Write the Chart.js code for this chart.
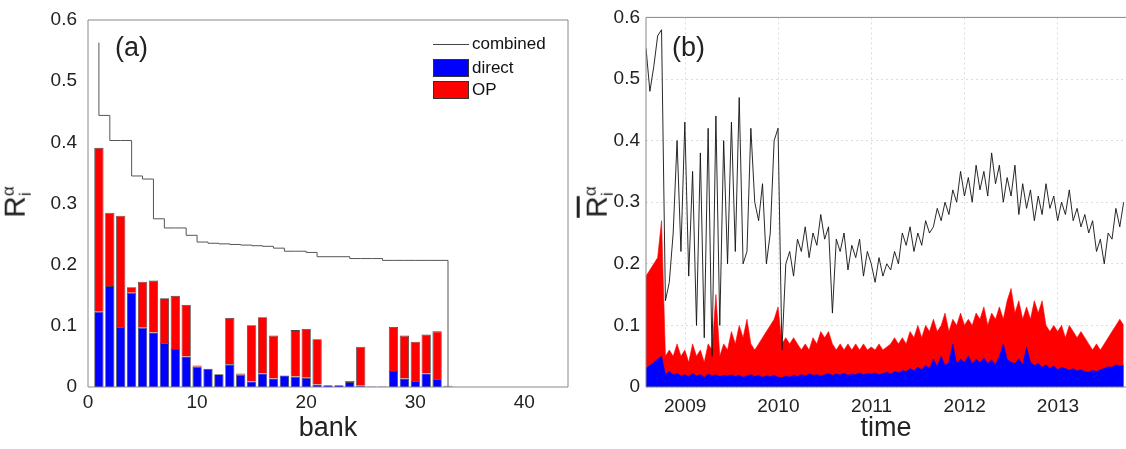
<!DOCTYPE html>
<html><head><meta charset="utf-8">
<script src="https://cdn.jsdelivr.net/npm/chart.js@4"></script>
<style>
body{margin:0;background:#fff;font-family:"Liberation Sans",Arial,sans-serif;}
#wrap{position:relative;width:1126px;height:449px;overflow:hidden;}
canvas{position:absolute;top:0;}
.lbl{position:absolute;color:#222;}
.ylab{position:absolute;font-size:30px;transform:rotate(-90deg);transform-origin:center;white-space:nowrap;color:#222;}
.leg{position:absolute;font-size:17px;color:#111;}
.sw{position:absolute;width:36px;height:18px;border:1px solid #333;box-sizing:border-box;}
</style></head><body>
<div id="wrap">
<canvas id="ca" width="580" height="449" style="left:0;width:580px;height:449px"></canvas>
<canvas id="cb" width="536" height="449" style="left:590px;width:536px;height:449px"></canvas>
<div class="lbl" style="left:115px;top:32px;font-size:27px">(a)</div>
<div class="lbl" style="left:672px;top:32px;font-size:27px">(b)</div>
<div class="ylab" style="left:0px;top:184px">R<span style="display:inline-block;vertical-align:middle;font-size:17px;line-height:17px;text-align:left">α<br>i</span></div>
<div class="ylab" style="left:582px;top:184px"><span style="text-decoration:overline">R</span><span style="display:inline-block;vertical-align:middle;font-size:17px;line-height:17px;text-align:left">α<br>i</span></div>
<div style="position:absolute;left:433px;top:44px;width:36px;border-top:1px solid #444"></div>
<div class="leg" style="left:472px;top:34px">combined</div>
<div class="sw" style="left:433px;top:59px;background:#0000ff"></div>
<div class="leg" style="left:472px;top:58px">direct</div>
<div class="sw" style="left:433px;top:81px;background:#ff0000"></div>
<div class="leg" style="left:472px;top:80px">OP</div>
</div>
<script>
// panel (a): per-bank values
const banks = [];
for (let i = 1; i <= 33; i++) banks.push(i);
const totalA = [0.391,0.285,0.280,0.163,0.172,0.174,0.145,0.149,0.134,0.035,0.030,0.021,0.113,0.022,0.101,0.114,0.084,0.019,0.093,0.095,0.078,0.003,0.003,0.010,0.066,0.001,0.001,0.098,0.084,0.074,0.086,0.091,0.002];
const directA = [0.123,0.165,0.098,0.154,0.097,0.089,0.072,0.062,0.050,0.033,0.030,0.021,0.037,0.020,0.009,0.022,0.014,0.019,0.017,0.015,0.004,0.003,0.003,0.008,0.002,0.001,0.001,0.026,0.014,0.010,0.022,0.013,0.001];
const combinedA = [0.563,0.444,0.403,0.403,0.345,0.340,0.275,0.260,0.260,0.248,0.237,0.235,0.234,0.233,0.232,0.231,0.230,0.227,0.222,0.222,0.220,0.213,0.213,0.213,0.210,0.210,0.210,0.207,0.207,0.207,0.207,0.207,0.207];

// panel (b): half-monthly samples starting Aug 2008
const tStart = 2008.58, tStep = 1 / 24;
const combinedB = [0.55,0.48,0.52,0.57,0.58,0.14,0.17,0.25,0.40,0.22,0.43,0.18,0.35,0.10,0.38,0.08,0.42,0.05,0.44,0.10,0.40,0.20,0.43,0.22,0.47,0.20,0.22,0.42,0.30,0.27,0.33,0.20,0.25,0.40,0.42,0.06,0.20,0.22,0.18,0.24,0.22,0.26,0.21,0.25,0.23,0.28,0.24,0.26,0.12,0.24,0.22,0.25,0.19,0.23,0.21,0.24,0.18,0.22,0.20,0.17,0.21,0.18,0.20,0.19,0.22,0.20,0.25,0.23,0.26,0.22,0.25,0.23,0.27,0.25,0.26,0.29,0.27,0.30,0.28,0.32,0.30,0.35,0.31,0.34,0.30,0.36,0.32,0.35,0.31,0.38,0.33,0.36,0.30,0.34,0.31,0.36,0.28,0.33,0.29,0.32,0.27,0.31,0.28,0.33,0.29,0.31,0.27,0.30,0.28,0.32,0.27,0.29,0.26,0.28,0.25,0.27,0.22,0.24,0.20,0.25,0.24,0.29,0.26,0.30];
const totalB = [0.18,0.19,0.20,0.21,0.27,0.05,0.06,0.05,0.07,0.05,0.06,0.04,0.07,0.05,0.06,0.04,0.07,0.06,0.15,0.05,0.07,0.06,0.09,0.07,0.10,0.08,0.11,0.07,0.06,0.07,0.08,0.09,0.10,0.11,0.13,0.07,0.08,0.07,0.08,0.07,0.06,0.07,0.06,0.08,0.07,0.09,0.08,0.09,0.07,0.06,0.07,0.06,0.07,0.06,0.07,0.06,0.07,0.06,0.065,0.06,0.07,0.06,0.065,0.07,0.08,0.07,0.08,0.07,0.09,0.08,0.10,0.08,0.10,0.09,0.11,0.09,0.10,0.12,0.09,0.11,0.10,0.12,0.10,0.11,0.10,0.12,0.11,0.13,0.10,0.12,0.11,0.13,0.11,0.14,0.16,0.12,0.14,0.11,0.13,0.11,0.14,0.12,0.14,0.10,0.09,0.10,0.09,0.10,0.08,0.10,0.09,0.08,0.09,0.08,0.07,0.06,0.07,0.06,0.07,0.08,0.09,0.10,0.11,0.10];
const directB = [0.03,0.035,0.04,0.045,0.05,0.02,0.025,0.02,0.022,0.018,0.02,0.017,0.022,0.018,0.02,0.016,0.021,0.018,0.02,0.017,0.019,0.018,0.02,0.017,0.019,0.016,0.018,0.02,0.017,0.019,0.016,0.018,0.017,0.019,0.016,0.015,0.018,0.016,0.019,0.017,0.02,0.018,0.021,0.019,0.02,0.018,0.02,0.022,0.019,0.021,0.02,0.022,0.019,0.021,0.02,0.023,0.02,0.022,0.021,0.023,0.02,0.022,0.024,0.021,0.025,0.023,0.027,0.025,0.03,0.026,0.032,0.028,0.035,0.03,0.045,0.033,0.05,0.035,0.04,0.07,0.038,0.045,0.04,0.05,0.038,0.045,0.04,0.047,0.038,0.044,0.036,0.05,0.07,0.045,0.04,0.038,0.046,0.036,0.065,0.04,0.035,0.038,0.032,0.036,0.03,0.034,0.028,0.032,0.03,0.027,0.03,0.026,0.028,0.025,0.024,0.027,0.025,0.028,0.03,0.033,0.032,0.036,0.034,0.035];
const yearTicks = [2009,2010,2011,2012,2013];

const tickFont = {family:'"Liberation Sans", Arial, sans-serif', size:19};
const titleFont = {family:'"Liberation Sans", Arial, sans-serif', size:27};

const boxPlugin = {
  id: 'box',
  afterDraw(c, args, opts) {
    const a = c.chartArea, ctx = c.ctx;
    ctx.save();
    ctx.strokeStyle = '#888'; ctx.lineWidth = 1;
    ctx.beginPath();
    ctx.moveTo(a.left, a.bottom); ctx.lineTo(a.left, a.top); ctx.lineTo(a.right, a.top);
    if (opts.right) ctx.lineTo(a.right, a.bottom);
    ctx.moveTo(a.left, a.bottom); ctx.lineTo(a.right, a.bottom);
    ctx.stroke();
    ctx.restore();
  }
};

function xy(xs, ys) { return ys.map((v, i) => ({x: xs[i], y: v})); }

new Chart(document.getElementById('ca'), {
  data: {
    datasets: [
      {type:'line', data: xy(banks, combinedA).concat([{x:33, y:0}]), stepped:'after', borderColor:'#555', borderWidth:1, pointRadius:0, order:0},
      {type:'bar', data: xy(banks, directA), backgroundColor:'#0000ff', borderColor:'#444', borderWidth:0.8, barPercentage:0.85, categoryPercentage:1, order:1},
      {type:'bar', data: xy(banks, totalA.map((t, i) => t - directA[i])), backgroundColor:'#ff0000', borderColor:'#444', borderWidth:0.8, barPercentage:0.85, categoryPercentage:1, order:1}
    ]
  },
  options: {
    responsive:false, animation:false,
    layout:{padding:{left:0, right:12, top:20, bottom:0}},
    plugins:{legend:{display:false}, tooltip:{enabled:false}, box:{right:true}},
    scales:{
      x:{type:'linear', min:0, max:44, stacked:true, offset:false,
        afterBuildTicks: s => { s.ticks = [0,10,20,30,40].map(v => ({value:v})); },
        afterFit: s => { s.height = 62; },
        grid:{display:false, drawTicks:false}, border:{display:false},
        ticks:{font:tickFont, color:'#222', maxRotation:0, padding:4},
        title:{display:true, text:'bank', font:titleFont, color:'#222', padding:{top:4}}},
      y:{min:0, max:0.6, stacked:true,
        afterFit: s => { s.width = 88; },
        grid:{display:false}, border:{display:false},
        ticks:{stepSize:0.1, font:tickFont, color:'#222', callback: v => +v.toFixed(1)}}
    }
  },
  plugins:[boxPlugin]
});

const timesB = combinedB.map((v, i) => tStart + i * tStep);
new Chart(document.getElementById('cb'), {
  type:'line',
  data: {
    datasets: [
      {data: xy(timesB, combinedB), borderColor:'#111', borderWidth:0.9, pointRadius:0, fill:false, order:0},
      {data: xy(timesB, directB), borderColor:'#0000ff', borderWidth:0.6, backgroundColor:'#0000ff', pointRadius:0, fill:'origin', order:1},
      {data: xy(timesB, totalB), borderColor:'#ff0000', borderWidth:0.6, backgroundColor:'#ff0000', pointRadius:0, fill:'origin', order:2}
    ]
  },
  options: {
    responsive:false, animation:false,
    layout:{padding:{left:0, right:0, top:16, bottom:0}},
    plugins:{legend:{display:false}, tooltip:{enabled:false}, box:{right:false}},
    scales:{
      x:{type:'linear', min:2008.58, max:2013.73,
        afterBuildTicks: s => { s.ticks = yearTicks.map(v => ({value:v})); },
        afterFit: s => { s.height = 62; },
        grid:{color:'#ddd', drawTicks:false}, border:{display:false, dash:[2,3]},
        ticks:{font:tickFont, color:'#222', maxRotation:0, padding:8, callback: v => String(v)},
        title:{display:true, text:'time', font:titleFont, color:'#222', padding:{top:0}}},
      y:{min:0, max:0.6,
        afterFit: s => { s.width = 56; },
        grid:{color:'#ddd', drawTicks:false}, border:{display:false, dash:[2,3]},
        ticks:{stepSize:0.1, font:tickFont, color:'#222', padding:6, callback: v => +v.toFixed(1)}}
    }
  },
  plugins:[boxPlugin]
});
</script>
</body></html>
